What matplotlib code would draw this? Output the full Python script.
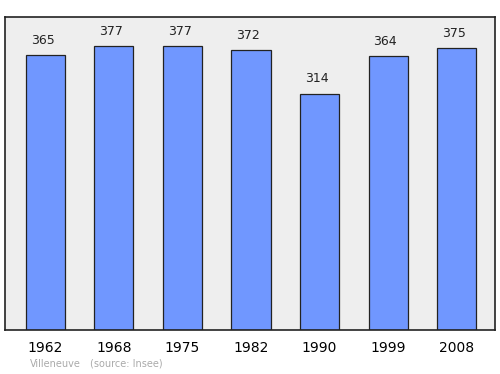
import matplotlib
matplotlib.use("Agg")
import matplotlib.pyplot as plt

years = ["1962", "1968", "1975", "1982", "1990", "1999", "2008"]
population = [365, 377, 377, 372, 314, 364, 375]

fig = plt.figure(figsize=(5, 3.74), dpi=100)
ax = fig.add_axes([0.01, 0.1176, 0.98, 0.837])
ax.set_facecolor("#eeeeee")

x = range(len(years))
ax.bar(x, population, width=0.57, color="#7097ff", edgecolor="#222222", linewidth=0.9)
for i, v in zip(x, population):
    ax.text(i - 0.04, v + 11, str(v), ha="center", va="bottom", fontsize=9, color="#222222")

ax.set_xlim(-0.59, 6.56)
ax.set_ylim(0, 416)
ax.set_xticks(list(x))
ax.set_xticklabels(years, fontsize=10)
ax.tick_params(axis="x", length=0, pad=8)
ax.set_yticks([])
for s in ax.spines.values():
    s.set_linewidth(1.2)
    s.set_color("#222222")

fig.text(0.06, 0.02, "Villeneuve", fontsize=7, color="#aaaaaa")
fig.text(0.18, 0.02, "(source: Insee)", fontsize=7, color="#aaaaaa")

fig.savefig("out.png", dpi=100)
